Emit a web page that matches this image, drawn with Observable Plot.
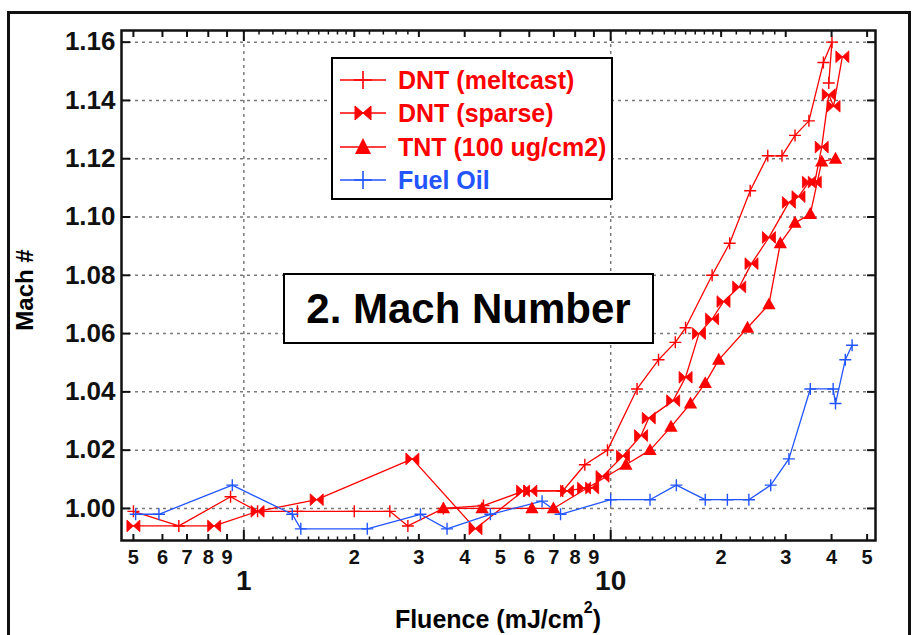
<!DOCTYPE html>
<html>
<head>
<meta charset="utf-8">
<script src="https://cdn.jsdelivr.net/npm/d3@7"></script>
<script src="https://cdn.jsdelivr.net/npm/@observablehq/plot@0.6"></script>
<style>
  html, body { margin: 0; padding: 0; background: #fff; overflow: hidden; }
  body { width: 913px; height: 635px; position: relative; font-family: "Liberation Sans", Arial, sans-serif; }
  #chart { position: absolute; left: 0; top: 0; }
  .ov { position: absolute; font-weight: bold; white-space: nowrap; }
  #outer { position: absolute; left: 7px; top: 11px; width: 898px; height: 700px; border: 3px solid #111; border-bottom: none; }
  #legend { position: absolute; left: 331px; top: 57px; width: 282px; height: 143px; }
  #titlebox { position: absolute; left: 283px; top: 273px; width: 367px; height: 67px; border: 2px solid #000; background: #fff;
    display: flex; align-items: center; justify-content: center; font-size: 42px; font-weight: bold; color: #000; }
</style>
</head>
<body>
<div id="outer"></div>
<div id="chart"></div>
<div id="legend"></div>
<div id="titlebox">2. Mach Number</div>
<div class="ov" id="ylab" style="left:25px; top:290px; font-size:24px; transform: translate(-50%,-50%) rotate(-90deg);">Mach #</div>
<div class="ov" id="xlab" style="left:498px; top:607px; font-size:25px; line-height:1; transform: translateX(-50%);">Fluence (mJ/cm<span style="position:relative; top:-15px; font-size:16px;">2</span>)</div>
<script>
// ---- data ----
const meltcastX = [0.50, 0.665, 0.92, 1.09, 1.40, 2.00, 2.50, 2.80, 3.50, 4.50, 5.80, 7.40, 8.50, 9.80, 11.8, 13.5, 15.0, 16.0, 18.9, 21.1, 24.0, 26.8, 29.3, 31.8, 34.7, 38.0, 40.1, 39.3];
const meltcastY = [0.999, 0.994, 1.004, 0.999, 0.999, 0.999, 0.999, 0.994, 1.000, 1.001, 1.006, 1.006, 1.015, 1.020, 1.041, 1.051, 1.057, 1.062, 1.080, 1.091, 1.109, 1.121, 1.121, 1.128, 1.133, 1.153, 1.160, 1.146];

const sparseX = [0.50, 0.83, 1.09, 1.58, 2.88, 4.28, 5.77, 6.04, 7.60, 8.46, 8.90, 9.50, 10.8, 12.1, 12.7, 14.8, 16.0, 17.4, 18.9, 20.3, 22.4, 24.2, 27.0, 30.6, 32.5, 34.7, 36.0, 37.6, 39.3, 40.5, 42.8];
const sparseY = [0.994, 0.994, 0.999, 1.003, 1.017, 0.993, 1.006, 1.006, 1.006, 1.007, 1.007, 1.011, 1.018, 1.025, 1.031, 1.037, 1.045, 1.060, 1.065, 1.071, 1.076, 1.084, 1.093, 1.105, 1.107, 1.112, 1.112, 1.124, 1.142, 1.138, 1.155];

const tntX = [3.50, 4.46, 6.10, 6.98, 11.0, 12.8, 14.6, 16.5, 18.1, 19.7, 23.6, 27.0, 29.0, 31.8, 35.0, 37.6, 41.0];
const tntY = [1.000, 1.000, 1.000, 1.000, 1.015, 1.020, 1.028, 1.036, 1.043, 1.051, 1.062, 1.070, 1.091, 1.098, 1.101, 1.119, 1.120];

const fuelX = [0.507, 0.587, 0.93, 1.355, 1.43, 2.17, 3.03, 3.58, 4.70, 6.50, 7.30, 10.0, 12.8, 15.1, 18.1, 20.8, 23.8, 27.3, 30.6, 35.0, 40.4, 41.0, 43.6, 45.5];
const fuelY = [0.998, 0.998, 1.008, 0.998, 0.993, 0.993, 0.998, 0.993, 0.998, 1.0025, 0.998, 1.003, 1.003, 1.008, 1.003, 1.003, 1.003, 1.008, 1.017, 1.041, 1.041, 1.036, 1.051, 1.056];

const seriesNames = ["DNT (meltcast)", "DNT (sparse)", "TNT (100 ug/cm2)", "Fuel Oil"];

const yTicks = [1.00, 1.02, 1.04, 1.06, 1.08, 1.10, 1.12, 1.14, 1.16];
const xDigitTicks = [0.5, 0.6, 0.7, 0.8, 0.9, 2, 3, 4, 5, 6, 7, 8, 9, 20, 30, 40, 50];
const xDigitLabels = ["5", "6", "7", "8", "9", "2", "3", "4", "5", "6", "7", "8", "9", "2", "3", "4", "5"];
const xDecadeTicks = [1, 10];
const xDecadeLabels = ["1", "10"];
const xMinorTicks = [1.1, 1.2, 1.3, 1.4, 1.5, 1.6, 1.7, 1.8, 1.9, 2.2, 2.4, 2.6, 2.8, 11, 12, 13, 14, 15, 16, 17, 18, 19, 22, 24, 26, 28];

// ---- styling ----
const RED = "#ff0000";
const BLUE = "#2255ff";

const toPts = (xs, ys) => xs.map((x, i) => ({x, y: ys[i]}));
const meltcast = toPts(meltcastX, meltcastY);
const sparse = toPts(sparseX, sparseY);
const tnt = toPts(tntX, tntY);
const fuel = toPts(fuelX, fuelY);
const digitRows = xDigitTicks.map((t, i) => ({t, label: xDigitLabels[i]}));
const decadeRows = xDecadeTicks.map((t, i) => ({t, label: xDecadeLabels[i]}));

const mk = (fn) => ({draw(ctx, size) { const r = Math.sqrt(size / Math.PI); fn(ctx, r); }});
const plusSym = mk((c, r) => { c.moveTo(-r, 0); c.lineTo(r, 0); c.moveTo(0, -r); c.lineTo(0, r); });
const bowSym = mk((c, r) => {
  const h = r * 0.9;
  c.moveTo(-r, -h); c.lineTo(0, 0); c.lineTo(-r, h); c.closePath();
  c.moveTo(r, -h); c.lineTo(0, 0); c.lineTo(r, h); c.closePath();
});
const triSym = mk((c, r) => { c.moveTo(0, -r); c.lineTo(r * 0.95, r * 0.7); c.lineTo(-r * 0.95, r * 0.7); c.closePath(); });

const gridStyle = {stroke: "#7a7a7a", strokeOpacity: 1, strokeDasharray: "3,4", strokeWidth: 1.5};
const noText = () => "";

const chart = Plot.plot({
  width: 913,
  height: 635,
  marginLeft: 121,
  marginRight: 38,
  marginTop: 30,
  marginBottom: 95,
  style: {fontFamily: "'Liberation Sans', Arial, sans-serif", background: "transparent", color: "#111"},
  x: {type: "log", domain: [0.464, 52.7], label: null},
  y: {domain: [0.989, 1.164], label: null},
  marks: [
    Plot.gridY(yTicks, gridStyle),
    Plot.gridX(xDecadeTicks, gridStyle),
    Plot.line(meltcast, {x: "x", y: "y", stroke: RED, strokeWidth: 1.3}),
    Plot.line(sparse, {x: "x", y: "y", stroke: RED, strokeWidth: 1.3}),
    Plot.line(tnt, {x: "x", y: "y", stroke: RED, strokeWidth: 1.3}),
    Plot.line(fuel, {x: "x", y: "y", stroke: BLUE, strokeWidth: 1.3}),
    Plot.dot(meltcast, {x: "x", y: "y", symbol: plusSym, r: 6, stroke: RED, fill: "none", strokeWidth: 1.4}),
    Plot.dot(sparse, {x: "x", y: "y", symbol: bowSym, r: 6.5, fill: RED, stroke: RED, strokeWidth: 0.8}),
    Plot.dot(tnt, {x: "x", y: "y", symbol: triSym, r: 7, fill: RED, stroke: "none"}),
    Plot.dot(fuel, {x: "x", y: "y", symbol: plusSym, r: 6, stroke: BLUE, fill: "none", strokeWidth: 1.4}),
    Plot.axisY(yTicks, {anchor: "left", tickSize: -9, tickPadding: 15, strokeWidth: 2, tickFormat: d3.format(".2f"), fontSize: 26, fontWeight: "bold", label: null}),
    Plot.axisY(yTicks, {anchor: "right", tickSize: -9, strokeWidth: 2, tickFormat: noText, label: null}),
    Plot.axisX(xDigitTicks, {anchor: "bottom", tickSize: -6, strokeWidth: 2, tickFormat: noText, label: null}),
    Plot.axisX(xDecadeTicks, {anchor: "bottom", tickSize: -10, strokeWidth: 2, tickFormat: noText, label: null}),
    Plot.axisX(xMinorTicks, {anchor: "bottom", tickSize: -3.5, strokeWidth: 1.5, tickFormat: noText, label: null}),
    Plot.axisX(xDigitTicks, {anchor: "top", tickSize: -6, strokeWidth: 2, tickFormat: noText, label: null}),
    Plot.axisX(xDecadeTicks, {anchor: "top", tickSize: -10, strokeWidth: 2, tickFormat: noText, label: null}),
    Plot.axisX(xMinorTicks, {anchor: "top", tickSize: -3.5, strokeWidth: 1.5, tickFormat: noText, label: null}),
    Plot.text(digitRows, {x: "t", text: "label", frameAnchor: "bottom", lineAnchor: "top", dy: 9, fontSize: 20, fontWeight: "bold", fill: "#111"}),
    Plot.text(decadeRows, {x: "t", text: "label", frameAnchor: "bottom", lineAnchor: "top", dy: 30, fontSize: 28, fontWeight: "bold", fill: "#111"}),
    Plot.frame({stroke: "#111", strokeWidth: 2.5})
  ]
});
document.getElementById("chart").appendChild(chart);

// ---- legend (SVG) ----
const legendSpecs = [
  {name: seriesNames[0], color: RED, kind: "plus"},
  {name: seriesNames[1], color: RED, kind: "bow"},
  {name: seriesNames[2], color: RED, kind: "tri"},
  {name: seriesNames[3], color: BLUE, kind: "plus"}
];
const NS = "http://www.w3.org/2000/svg";
const lsvg = document.createElementNS(NS, "svg");
lsvg.setAttribute("width", 282);
lsvg.setAttribute("height", 143);
lsvg.style.display = "block";
lsvg.style.overflow = "visible";
const box = document.createElementNS(NS, "rect");
box.setAttribute("x", 1); box.setAttribute("y", 1); box.setAttribute("width", 280); box.setAttribute("height", 141);
box.setAttribute("fill", "#fff"); box.setAttribute("stroke", "#000"); box.setAttribute("stroke-width", 2);
lsvg.appendChild(box);
const rowY = [23, 56, 90, 123];
legendSpecs.forEach((s, i) => {
  const g = document.createElementNS(NS, "g");
  g.setAttribute("transform", `translate(0,${rowY[i]})`);
  let marker = "";
  if (s.kind === "plus") marker = `<path d="M23,0H41M32,-9V9" stroke="${s.color}" stroke-width="1.6" fill="none"/>`;
  if (s.kind === "bow") marker = `<path d="M24,-7L32,0L24,7ZM40,-7L32,0L40,7Z" fill="${s.color}" stroke="${s.color}"/>`;
  if (s.kind === "tri") marker = `<path d="M32,-9L40,7L24,7Z" fill="${s.color}"/>`;
  g.innerHTML = `<line x1="9" y1="0" x2="55" y2="0" stroke="${s.color}" stroke-width="1.6"/>${marker}`;
  const t = document.createElementNS(NS, "text");
  t.setAttribute("x", 67);
  t.setAttribute("y", 0);
  t.setAttribute("dy", "0.36em");
  t.setAttribute("fill", s.color);
  t.setAttribute("font-size", 25);
  t.setAttribute("font-weight", "bold");
  t.setAttribute("font-family", "'Liberation Sans', Arial, sans-serif");
  t.textContent = s.name;
  g.appendChild(t);
  lsvg.appendChild(g);
});
document.getElementById("legend").appendChild(lsvg);
</script>
</body>
</html>
